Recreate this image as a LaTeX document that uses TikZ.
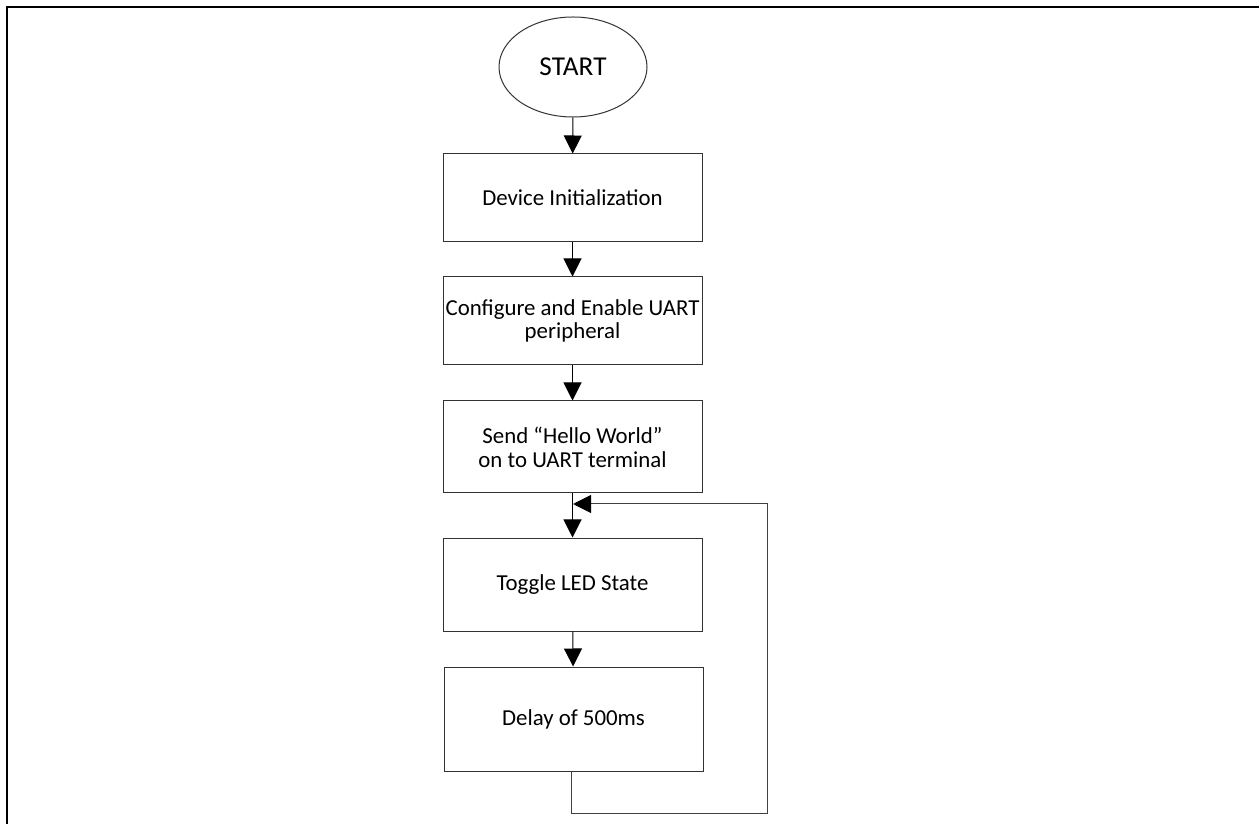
\documentclass[tikz,border=0pt]{standalone}
\usepackage{fontspec}
\setmainfont{Carlito}
\usetikzlibrary{shapes.geometric,arrows.meta}
\begin{document}
\begin{tikzpicture}[
    process/.style={draw=black!80, line width=0.02cm, rectangle, minimum width=5.180000cm, inner sep=0pt, align=center, font=\fontsize{13}{13.5}\selectfont},
    flowline/.style={line width=0.02cm, -{Triangle[length=0.360000cm,width=0.360000cm,color=black]}}
  ]
                \useasboundingbox (0.000000,0.000000) rectangle (25.180000,16.480000);
                {
                
                % Drawing frame top and left
                \draw [line width=0.040000cm] (0.140000,0.000000) -- (0.140000,16.340000) -- (25.180000,16.340000);%
                
                % Drawing start ellipse
                \node [draw=black!80, line width=0.02cm, ellipse, minimum width=2.960000cm, minimum height=2.000000cm, inner sep=0pt, font=\fontsize{15.5}{18}\selectfont] (start) at (11.460000,15.140000) {START};%
                
                % Drawing box Device Initialization
                \node [process, minimum height=1.760000cm] (init) at (11.450000,12.520000) {Device Initialization};%
                
                % Drawing box Configure UART
                \node [process, minimum height=1.760000cm] (uart) at (11.450000,10.060000) {Configure and Enable UART\\peripheral};%
                
                % Drawing box Send Hello World
                \node [process, minimum height=1.840000cm] (hello) at (11.450000,7.540000) {Send “Hello World”\\on to UART terminal};%
                
                % Drawing box Toggle LED
                \node [process, minimum height=1.860000cm] (toggle) at (11.450000,4.790000) {Toggle LED State};%
                
                % Drawing box Delay
                \node [process, minimum height=2.080000cm] (delay) at (11.470000,2.100000) {Delay of 500ms};%
                
                % Loop corners
                \coordinate (back) at (11.460000,6.400000);%
                \coordinate (low) at (11.420000,0.220000);%
                \coordinate (right) at (15.340000,0.220000);%
                \coordinate (up) at (15.340000,6.400000);%
                
                % Drawing segment start init
                \draw [flowline] (start) -- (init);%
                
                % Drawing segment init uart
                \draw [flowline] (init) -- (uart);%
                
                % Drawing segment uart hello
                \draw [flowline] (uart) -- (hello);%
                
                % Drawing segment hello toggle
                \draw [flowline] (hello) -- (toggle);%
                
                % Drawing segment toggle delay
                \draw [flowline] (toggle) -- (delay);%
                
                % Drawing loop delay back
                \draw [flowline, draw=black!75] (delay.south -| low) -- (low) -- (right) -- (up) -- (back);%
                }
            \end{tikzpicture}
\end{document}
